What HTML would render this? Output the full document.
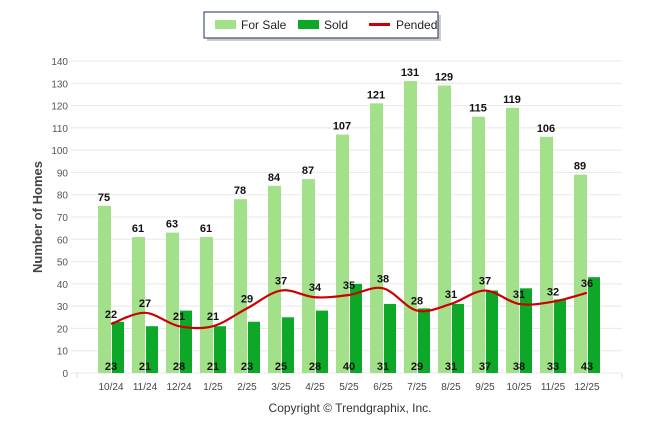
<!DOCTYPE html>
<html><head><meta charset="utf-8"><style>
body{margin:0;background:#fff;font-family:"Liberation Sans",Arial,sans-serif;}
svg text{font-family:"Liberation Sans",Arial,sans-serif;}
</style></head><body>
<svg width="646" height="434" id="c">
<g>
<rect x="207" y="15" width="234" height="26" fill="#ccc"/>
<rect x="204" y="12" width="234" height="26" fill="#fff" stroke="#1f2f5a" stroke-width="1"/>
<rect x="215" y="20" width="21" height="9" fill="#a3e08a"/>
<text x="241" y="29" font-size="12" fill="#222">For Sale</text>
<rect x="298" y="20" width="21" height="9" fill="#0da827"/>
<text x="324" y="29" font-size="12" fill="#222">Sold</text>
<rect x="369" y="23" width="21" height="3" fill="#cc0000"/>
<text x="396" y="29" font-size="12" fill="#222">Pended</text>
</g>
<text transform="translate(42,217) rotate(-90)" text-anchor="middle" font-size="13" font-weight="bold" fill="#444">Number of Homes</text>
<text x="350" y="412" text-anchor="middle" font-size="12" fill="#333">Copyright © Trendgraphix, Inc.</text>
<g id="grid"></g><g id="bars"></g><g id="line"></g><g id="labels"></g>
</svg>
<script>
const categories=["10/24","11/24","12/24","1/25","2/25","3/25","4/25","5/25","6/25","7/25","8/25","9/25","10/25","11/25","12/25"];
const forSale=[75,61,63,61,78,84,87,107,121,131,129,115,119,106,89];
const sold=[23,21,28,21,23,25,28,40,31,29,31,37,38,33,43];
const pended=[22,27,21,21,29,37,34,35,38,28,31,37,31,32,36];
const yTicks=[0,10,20,30,40,50,60,70,80,90,100,110,120,130,140];
const NS="http://www.w3.org/2000/svg";
const y=v=>373-v*(312/140);
const x=i=>111+i*34;
function mk(t,a,p){const e=document.createElementNS(NS,t);for(const k in a)e.setAttribute(k,a[k]);p.appendChild(e);return e;}
const G=document.getElementById('grid'),B=document.getElementById('bars'),L=document.getElementById('line'),T=document.getElementById('labels');
yTicks.forEach(v=>{
 const l=mk('line',{x1:71,x2:622,y1:y(v),y2:y(v),stroke:'#e8e8e8','stroke-width':1},G);
 
 
 const t=mk('text',{x:68,y:y(v)+4,'text-anchor':'end','font-size':10,fill:'#555'},G);t.textContent=v;
 
 
});
mk('line',{x1:77,x2:77,y1:373,y2:378,stroke:'#ddd'},G);
mk('line',{x1:622,x2:622,y1:373,y2:378,stroke:'#ddd'},G);
categories.forEach((c,i)=>{
 const cx=x(i);
 const t=mk('text',{x:cx,y:390,'text-anchor':'middle','font-size':10,fill:'#444'},G);t.textContent=c;
 
 
 const b1=mk('rect',{x:cx-13,y:y(forSale[i]),width:13,height:373-y(forSale[i]),fill:'#a3e08a'},B);
 
 
 const b2=mk('rect',{x:cx+1,y:y(sold[i]),width:12,height:373-y(sold[i]),fill:'#0da827'},B);
 
 
 const l1=mk('text',{x:cx-7,y:y(forSale[i])-5,'text-anchor':'middle','font-size':11,'font-weight':'bold',fill:'#111'},T);l1.textContent=forSale[i];
 
 
 const l2=mk('text',{x:cx,y:370,'text-anchor':'middle','font-size':11,'font-weight':'bold',fill:'#111'},T);l2.textContent=sold[i];
 
 
 const l3=mk('text',{x:cx,y:y(pended[i])-6,'text-anchor':'middle','font-size':11,'font-weight':'bold',fill:'#111'},T);l3.textContent=pended[i];
 
 
});
// catmull-rom smoothing
const pts=pended.map((v,i)=>[x(i),y(v)]);
let d='M'+pts[0][0]+','+pts[0][1];
for(let i=0;i<pts.length-1;i++){
 const p0=pts[Math.max(0,i-1)],p1=pts[i],p2=pts[i+1],p3=pts[Math.min(pts.length-1,i+2)];
 const c1x=p1[0]+(p2[0]-p0[0])/6,c1y=p1[1]+(p2[1]-p0[1])/6;
 const c2x=p2[0]-(p3[0]-p1[0])/6,c2y=p2[1]-(p3[1]-p1[1])/6;
 d+=` C${c1x},${c1y} ${c2x},${c2y} ${p2[0]},${p2[1]}`;
}
const p=mk('path',{d:d,fill:'none',stroke:'#cc0000','stroke-width':2.2},L);


</script>
</body></html>
